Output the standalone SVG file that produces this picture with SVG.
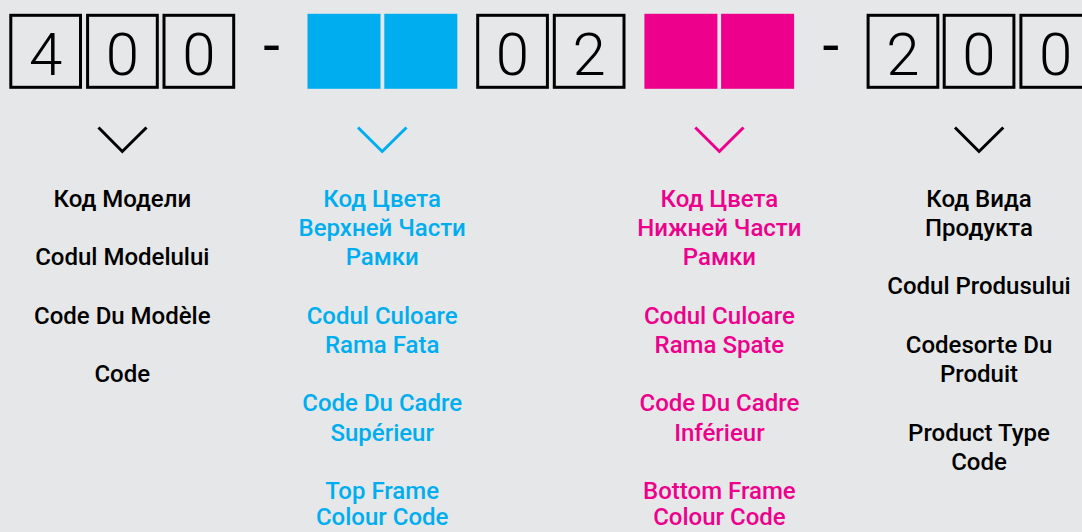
<svg xmlns="http://www.w3.org/2000/svg" width="1082" height="532" viewBox="0 0 1082 532">
<style>
.bg{fill:#E6E7E8}
.box{fill:none;stroke:#000;stroke-width:3}
.blue{fill:#00AEEF}
.pink{fill:#EC008C}
.dig{font-family:Roboto,"Liberation Sans",sans-serif;font-weight:300;font-size:60px;fill:#000;text-anchor:middle}
.dash{font-family:Roboto,"Liberation Sans",sans-serif;font-weight:400;font-size:60px;fill:#000;text-anchor:middle}
.lbl{font-family:Roboto,"Liberation Sans",sans-serif;font-weight:500;font-size:24px;text-anchor:middle}
.k{fill:#000}
.b{fill:#00AEEF}
.p{fill:#EC008C}
.chev{fill:none;stroke-width:3}
</style>
<rect class="bg" x="0" y="0" width="1082" height="532"/>
<g id="code">
  <g id="model-code-boxes">
    <rect class="box" x="10.8" y="15.3" width="69.7" height="72"/>
    <text class="dig" x="45.6" y="74.7">4</text>
    <rect class="box" x="87.6" y="15.3" width="69.7" height="72"/>
    <text class="dig" x="122.4" y="74.7">0</text>
    <rect class="box" x="164" y="15.3" width="69.7" height="72"/>
    <text class="dig" x="198.8" y="74.7">0</text>
  </g>
  <text class="dash" x="271.5" y="66">-</text>
  <g id="top-colour-boxes">
    <rect class="blue" x="307.5" y="13.8" width="73" height="75"/>
    <rect class="blue" x="384.3" y="13.8" width="73" height="75"/>
  </g>
  <g id="mid-boxes">
    <rect class="box" x="477.7" y="15.3" width="69.7" height="72"/>
    <text class="dig" x="512.5" y="74.7">0</text>
    <rect class="box" x="554.3" y="15.3" width="69.7" height="72"/>
    <text class="dig" x="589.1" y="74.7">2</text>
  </g>
  <g id="bottom-colour-boxes">
    <rect class="pink" x="644.4" y="13.8" width="73" height="75"/>
    <rect class="pink" x="721.1" y="13.8" width="73" height="75"/>
  </g>
  <text class="dash" x="830.7" y="66">-</text>
  <g id="product-type-boxes">
    <rect class="box" x="868.1" y="15.3" width="69.7" height="72"/>
    <text class="dig" x="902.9" y="74.7">2</text>
    <rect class="box" x="944.2" y="15.3" width="69.7" height="72"/>
    <text class="dig" x="979" y="74.7">0</text>
    <rect class="box" x="1020.9" y="15.3" width="69.7" height="72"/>
    <text class="dig" x="1055.7" y="74.7">0</text>
  </g>
</g>
<g id="connectors">
  <polyline class="chev" stroke="#000" points="98.5,127.5 122.3,151.5 146.5,127.5"/>
  <polyline class="chev" stroke="#00AEEF" points="358,127.5 382.2,151.5 406.5,127.5"/>
  <polyline class="chev" stroke="#EC008C" points="695.3,127.5 719.4,151.5 743.5,127.5"/>
  <polyline class="chev" stroke="#000" points="955,127.5 979,151.5 1003.3,127.5"/>
</g>
<g id="model-code" class="lbl k">
  <text x="122.3" y="206.7">Код Модели</text>
  <text x="122.3" y="265.2">Codul Modelului</text>
  <text x="122.3" y="323.7">Code Du Modèle</text>
  <text x="122.3" y="382.2">Code</text>
</g>
<g id="top-frame-colour-code" class="lbl b">
  <text x="382.2" y="206.7">Код Цвета</text>
  <text x="382.2" y="235.95">Верхней Части</text>
  <text x="382.2" y="265.2">Рамки</text>
  <text x="382.2" y="323.7">Codul Culoare</text>
  <text x="382.2" y="352.95">Rama Fata</text>
  <text x="382.2" y="411.45">Code Du Cadre</text>
  <text x="382.2" y="440.7">Supérieur</text>
  <text x="382.2" y="498.7">Top Frame</text>
  <text x="382.2" y="525.4">Colour Code</text>
</g>
<g id="bottom-frame-colour-code" class="lbl p">
  <text x="719.4" y="206.7">Код Цвета</text>
  <text x="719.4" y="235.95">Нижней Части</text>
  <text x="719.4" y="265.2">Рамки</text>
  <text x="719.4" y="323.7">Codul Culoare</text>
  <text x="719.4" y="352.95">Rama Spate</text>
  <text x="719.4" y="411.45">Code Du Cadre</text>
  <text x="719.4" y="440.7">Inférieur</text>
  <text x="719.4" y="498.7">Bottom Frame</text>
  <text x="719.4" y="525.4">Colour Code</text>
</g>
<g id="product-type-code" class="lbl k">
  <text x="979" y="206.7">Код Вида</text>
  <text x="979" y="235.95">Продукта</text>
  <text x="979" y="294.45">Codul Produsului</text>
  <text x="979" y="352.95">Codesorte Du</text>
  <text x="979" y="382.2">Produit</text>
  <text x="979" y="440.7">Product Type</text>
  <text x="979" y="469.95">Code</text>
</g>
</svg>
